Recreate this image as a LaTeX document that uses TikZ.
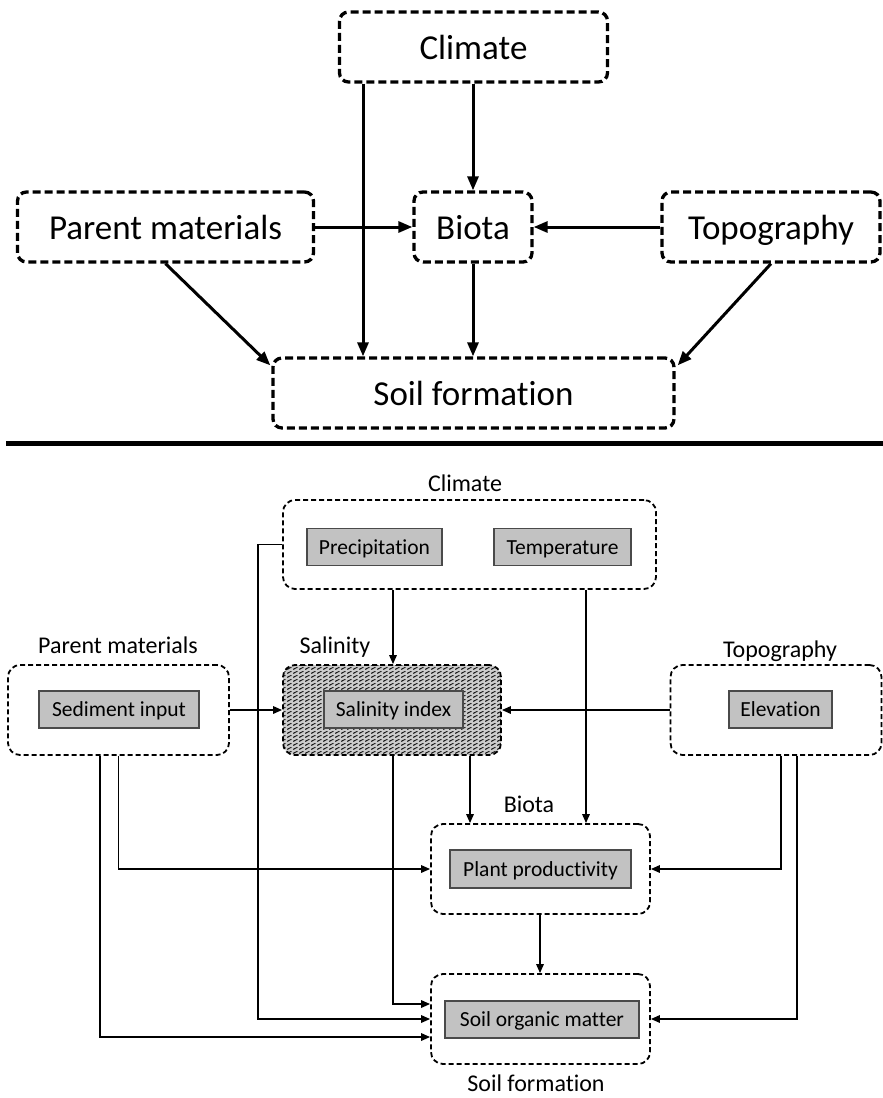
\documentclass[tikz,border=0pt]{standalone}
\usepackage{fontspec}
\setmainfont{Carlito}[Ligatures=NoCommon]
\usetikzlibrary{arrows.meta,patterns,calc}
\pgfdeclarepatternformonly{zigzagfill}{\pgfpoint{-1pt}{-1pt}}{\pgfpoint{7pt}{5pt}}{\pgfpoint{6pt}{4pt}}{
  \pgfsetlinewidth{0.9pt}
  \pgfpathmoveto{\pgfpoint{-1pt}{0.6pt}}
  \pgfpathlineto{\pgfpoint{0pt}{1pt}}
  \pgfpathlineto{\pgfpoint{3pt}{2.6pt}}
  \pgfpathlineto{\pgfpoint{6pt}{1pt}}
  \pgfpathlineto{\pgfpoint{7pt}{1.5pt}}
  \pgfusepath{stroke}}
\definecolor{inner}{HTML}{C2C2C2}
\definecolor{innerdraw}{HTML}{4A4A4A}
\tikzset{
  bigbox/.style={draw, line width=3.3pt, dash pattern=on 8pt off 4pt, rounded corners=9pt,
    inner sep=0pt, minimum height=70pt, text height=28pt, text depth=4pt,
    font=\fontsize{35}{40}\selectfont},
  grpbox/.style={draw, line width=1.8pt, dash pattern=on 5pt off 3pt, rounded corners=12pt, inner sep=0pt},
  varbox/.style={draw=innerdraw, fill=inner, line width=1.4pt, inner sep=0pt,
    minimum height=37pt, text height=17pt, text depth=3pt, font=\fontsize{21.5}{25}\selectfont},
  lbl/.style={inner sep=0pt, text height=18.5pt, text depth=3pt, font=\fontsize{24}{28}\selectfont},
  bigarr/.style={line width=3pt, -{Triangle[length=14pt,width=11pt]}},
  arr/.style={line width=1.6pt, -{Triangle[length=9pt,width=7.5pt]}},
}
\begin{document}
\begin{tikzpicture}[x=1pt,y=-1pt]
\useasboundingbox (0,0) rectangle (883,1098);
% ---------- top ----------
\node[bigbox, minimum width=268pt] (tClim) at (473.5,47) {Climate};
\node[bigbox, minimum width=296pt] (tPar) at (165.5,227) {Parent materials};
\node[bigbox, minimum width=118pt] (tBio) at (473,227) {Biota};
\node[bigbox, minimum width=218pt] (tTop) at (771,227) {Topography};
\node[bigbox, minimum width=401pt] (tSoil) at (473.5,393) {Soil formation};
\coordinate (tx) at (363,0);
\draw[bigarr] (tClim.south -| tx) -- (tSoil.north -| tx);
\draw[bigarr] (tClim.south -| tBio.north) -- (tBio.north);
\draw[bigarr] (tPar.east) -- (tBio.west);
\draw[bigarr] (tTop.west) -- (tBio.east);
\draw[bigarr] (tBio.south) -- (tSoil.north -| tBio.south);
\draw[bigarr] (tPar.south) -- ($(tSoil.north west)+(-1,9)$);
\draw[bigarr] (tTop.south) -- ($(tSoil.north east)+(2,9)$);
\coordinate (ruleL) at (6,443);
\coordinate (ruleR) at (883,443);
\draw[line width=5pt] (ruleL) -- (ruleR);
% ---------- bottom ----------
\node[grpbox, minimum width=373pt, minimum height=89pt] (bClim) at (469.5,544.5) {};
\node[lbl] (lClim) at (465,484) {Climate};
\node[varbox, minimum width=135pt] (prec) at (374.5,547) {Precipitation};
\node[varbox, minimum width=137pt] (temp) at (562.5,547) {Temperature};

\node[grpbox, minimum width=221pt, minimum height=90pt] (bPar) at (118.5,710) {};
\node[lbl] (lPar) at (118,646) {Parent materials};
\node[varbox, minimum width=160pt] (sed) at (119,709.5) {Sediment input};

\node[grpbox, minimum width=218pt, minimum height=90pt, preaction={fill=gray!40},
  pattern=zigzagfill, pattern color=black!90] (bSal) at (392,710) {};
\node[lbl] (lSal) at (335,646) {Salinity};
\node[varbox, minimum width=139pt] (sal) at (393.5,709.5) {Salinity index};

\node[grpbox, minimum width=211pt, minimum height=90pt] (bTop) at (776,710) {};
\node[lbl] (lTop) at (780,650) {Topography};
\node[varbox, minimum width=103pt] (elev) at (780.5,709.5) {Elevation};

\node[grpbox, minimum width=219pt, minimum height=90pt] (bBio) at (540.5,869) {};
\node[lbl] (lBio) at (529,805) {Biota};
\node[varbox, minimum width=181pt, minimum height=38pt] (plant) at (540.5,869) {Plant productivity};

\node[grpbox, minimum width=219pt, minimum height=90pt] (bSoil) at (540.5,1019) {};
\node[varbox, minimum width=194pt] (som) at (542,1019.5) {Soil organic matter};
\node[lbl] (lSoil) at (536,1084) {Soil formation};

\coordinate (c393) at (393,0);
\coordinate (c586) at (586,0);
\coordinate (c258) at (258,0);
\coordinate (c470) at (470,0);
\coordinate (c100) at (100,0);
\coordinate (c781) at (781,0);
\coordinate (c797) at (797,0);
\coordinate (c540) at (540,0);

\draw[arr] (bClim.south -| c393) -- (bSal.north -| c393);
\draw[arr] (bClim.south -| c586) -- (bBio.north -| c586);
\draw[arr] (bClim.west) -- (bClim.west -| c258) -- (bSoil.west -| c258) -- (bSoil.west);
\draw[arr] (bPar.east) -- (bSal.west);
\draw[arr] (bTop.west) -- (bSal.east);
\draw[arr] (bSal.south -| c393) |- ($(bSoil.west)+(0,-15)$);
\draw[arr] (bSal.south -| c470) -- (bBio.north -| c470);
\draw[arr] (bPar.south) |- (bBio.west);
\draw[arr] (bPar.south -| c100) |- ($(bSoil.west)+(0,18)$);
\draw[arr] (bTop.south -| c781) |- (bBio.east);
\draw[arr] (bTop.south -| c797) |- (bSoil.east);
\draw[arr] (bBio.south -| c540) -- (bSoil.north -| c540);
\end{tikzpicture}
\end{document}
